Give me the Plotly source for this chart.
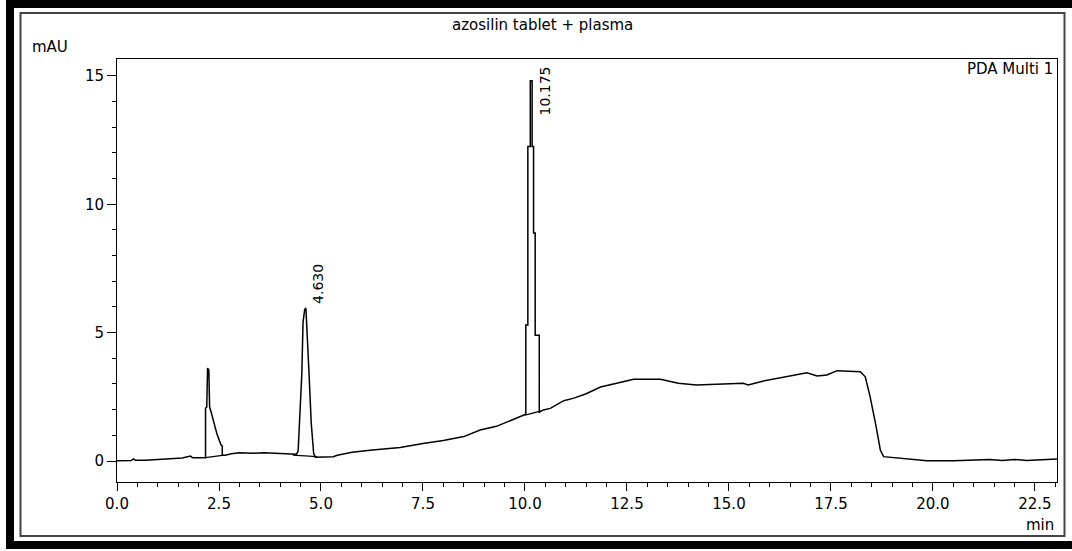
import plotly.graph_objects as go

# Chromatogram trace (time in min, absorbance in mAU)
time_min = [
    0.00, 0.35, 0.40, 0.45, 0.70, 0.98, 1.20, 1.40, 1.60, 1.80, 1.85, 2.17,
    2.17, 2.20, 2.22, 2.25, 2.27, 2.30, 2.35, 2.40, 2.45, 2.50, 2.55, 2.58, 2.58,
    2.65, 2.80, 3.00, 3.30, 3.60, 4.00, 4.40,
    4.44, 4.49, 4.53, 4.56, 4.60, 4.63, 4.66, 4.71, 4.76, 4.82, 4.86,
    5.00, 5.30, 5.40, 5.76, 6.20, 6.94, 7.50, 8.00, 8.50, 8.90, 9.30, 9.71, 10.00,
    10.02, 10.02, 10.07, 10.07, 10.13, 10.13, 10.175, 10.175, 10.21, 10.21,
    10.25, 10.25, 10.35, 10.35,
    10.45, 10.62, 10.95, 11.20, 11.50, 11.85, 12.04, 12.30, 12.66, 13.32, 13.76,
    14.20, 15.35, 15.47, 15.80, 16.33, 16.91, 17.16, 17.40, 17.65, 18.22, 18.34,
    18.46, 18.60, 18.71, 18.79, 19.20, 19.85, 20.50, 21.30, 21.40, 21.70, 22.00,
    22.30, 22.60, 22.80, 23.04,
]
signal_mau = [
    0.01, 0.02, 0.08, 0.03, 0.03, 0.07, 0.08, 0.10, 0.12, 0.19, 0.13, 0.13,
    2.06, 2.10, 3.62, 3.55, 2.10, 1.95, 1.60, 1.35, 1.05, 0.85, 0.62, 0.58, 0.22,
    0.22, 0.28, 0.32, 0.30, 0.32, 0.28, 0.26,
    0.40, 2.10, 3.40, 5.40, 5.90, 5.96, 4.70, 3.30, 1.50, 0.30, 0.15,
    0.16, 0.17, 0.22, 0.34, 0.42, 0.53, 0.68, 0.80, 0.95, 1.21, 1.35, 1.60, 1.79,
    1.82, 5.30, 5.30, 12.25, 12.25, 14.81, 14.81, 12.25, 12.25, 8.88,
    8.88, 4.90, 4.90, 1.90,
    1.99, 2.05, 2.35, 2.45, 2.62, 2.88, 2.96, 3.05, 3.18, 3.18, 3.03,
    2.96, 3.03, 2.96, 3.10, 3.25, 3.44, 3.31, 3.35, 3.52, 3.48, 3.28,
    2.50, 1.40, 0.43, 0.17, 0.10, 0.01, 0.01, 0.03, 0.06, 0.02, 0.06,
    0.02, 0.04, 0.07, 0.08,
]

# Integration baselines drawn under each detected peak
base_start_t = [2.17, 4.31, 10.00]
base_start_v = [0.13, 0.23, 1.79]
base_end_t = [2.58, 4.90, 10.40]
base_end_v = [0.22, 0.17, 1.95]

# Labelled peaks
peak_rt = [4.630, 10.175]
peak_height = [5.96, 14.81]

x_ticks = [0.0, 2.5, 5.0, 7.5, 10.0, 12.5, 15.0, 17.5, 20.0, 22.5]
y_ticks = [0, 5, 10, 15]

FONT = "DejaVu Sans"

# Page geometry (pixels) used to place the frame and free text
W, H = 1072, 551
L, T, PW, PH = 117, 59, 940, 423


def px(x):
    return (x - L) / PW


def py(y):
    return (T + PH - y) / PH


fig = go.Figure()

fig.add_trace(go.Scatter(
    x=time_min, y=signal_mau, mode="lines",
    line=dict(color="black", width=1.5), hoverinfo="skip", showlegend=False,
))

for t0, v0, t1, v1 in zip(base_start_t, base_start_v, base_end_t, base_end_v):
    fig.add_trace(go.Scatter(
        x=[t0, t1], y=[v0, v1], mode="lines",
        line=dict(color="black", width=1.2), hoverinfo="skip", showlegend=False,
    ))

# Retention-time labels, written vertically beside each apex
for i, (rt, h) in enumerate(zip(peak_rt, peak_height)):
    if i == 0:
        fig.add_annotation(x=rt, y=h, xref="x", yref="y", text=f"{rt:.3f}",
                           textangle=-90, showarrow=False, xanchor="left",
                           yanchor="bottom", xshift=2, yshift=2,
                           font=dict(family=FONT, size=14, color="black"))
    else:
        fig.add_annotation(x=rt, y=15.43, xref="x", yref="y", text=f"{rt:.3f}",
                           textangle=-90, showarrow=False, xanchor="left",
                           yanchor="top", xshift=3,
                           font=dict(family=FONT, size=14, color="black"))

# Free text around the plot
fig.add_annotation(x=px(542), y=py(25), xref="paper", yref="paper",
                   text="azosilin tablet + plasma", showarrow=False,
                   xanchor="center", yanchor="middle",
                   font=dict(family=FONT, size=15, color="black"))
fig.add_annotation(x=px(30), y=py(47), xref="paper", yref="paper",
                   text="mAU", showarrow=False, xanchor="left", yanchor="middle",
                   font=dict(family=FONT, size=15, color="black"))
fig.add_annotation(x=px(1055), y=py(69), xref="paper", yref="paper",
                   text="PDA Multi 1", showarrow=False, xanchor="right",
                   yanchor="middle",
                   font=dict(family=FONT, size=15, color="black"))
fig.add_annotation(x=px(1056), y=py(525), xref="paper", yref="paper",
                   text="min", showarrow=False, xanchor="right", yanchor="middle",
                   font=dict(family=FONT, size=15, color="black"))

# Window frame: heavy black band plus a thin inner outline
shapes = [
    dict(type="rect", xref="paper", yref="paper", x0=px(6), x1=px(14),
         y0=py(-2), y1=py(549), fillcolor="black", line=dict(width=0)),
    dict(type="rect", xref="paper", yref="paper", x0=px(6), x1=px(1074),
         y0=py(-2), y1=py(8), fillcolor="black", line=dict(width=0)),
    dict(type="rect", xref="paper", yref="paper", x0=px(6), x1=px(1074),
         y0=py(541), y1=py(549), fillcolor="black", line=dict(width=0)),
    dict(type="rect", xref="paper", yref="paper", x0=px(20.5), x1=px(1064.5),
         y0=py(13), y1=py(536), line=dict(color="#444444", width=2)),
]

fig.update_layout(
    width=W, height=H,
    margin=dict(l=L, r=W - L - PW, t=T, b=H - T - PH, pad=0),
    paper_bgcolor="white", plot_bgcolor="white",
    shapes=shapes,
    font=dict(family=FONT, size=15, color="black"),
    xaxis=dict(
        range=[0, 23.04], tickvals=x_ticks, ticktext=[f"{v:.1f}" for v in x_ticks],
        ticks="outside", ticklen=8, tickwidth=1, tickcolor="black",
        minor=dict(dtick=0.5, tick0=0, ticks="outside", ticklen=4,
                   tickcolor="black", showgrid=False),
        showline=True, linecolor="black", linewidth=1, mirror=True,
        showgrid=False, zeroline=False,
        tickfont=dict(family=FONT, size=15, color="black"),
    ),
    yaxis=dict(
        range=[-0.818, 15.66], tickvals=y_ticks,
        ticks="outside", ticklen=9, tickwidth=1, tickcolor="black",
        minor=dict(dtick=1, tick0=0, ticks="outside", ticklen=4,
                   tickcolor="black", showgrid=False),
        showline=True, linecolor="black", linewidth=1, mirror=True,
        showgrid=False, zeroline=False,
        tickfont=dict(family=FONT, size=15, color="black"),
    ),
)

fig.write_html("out.html")
